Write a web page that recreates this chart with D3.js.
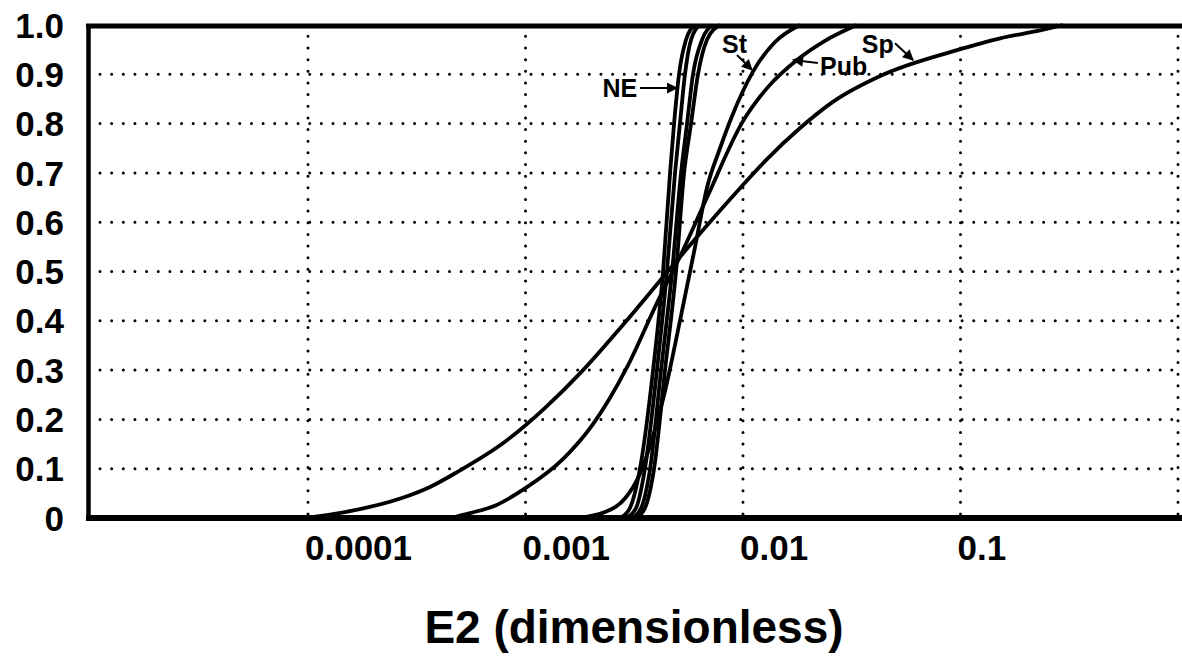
<!DOCTYPE html>
<html>
<head>
<meta charset="utf-8">
<script src="https://cdn.jsdelivr.net/npm/d3@7"></script>
<style>
  body { margin: 0; background: #fff; }
  text { font-family: "Liberation Sans", Arial, Helvetica, sans-serif; font-weight: bold; fill: #000; }
</style>
</head>
<body>
<script>
// tick values and labels
const xTicks = [0.0001, 0.001, 0.01, 0.1, 1];
const xTickLabels = ["0.0001", "0.001", "0.01", "0.1", ""];
const yTicks = [0, 0.1, 0.2, 0.3, 0.4, 0.5, 0.6, 0.7, 0.8, 0.9, 1.0];
const yTickLabels = ["0", "0.1", "0.2", "0.3", "0.4", "0.5", "0.6", "0.7", "0.8", "0.9", "1.0"];

// cumulative curves, [E2, fraction]
const neA = [[0.00272, 0], [0.00302, 0.02], [0.00336, 0.1], [0.00386, 0.3], [0.00429, 0.5], [0.00462, 0.7], [0.00482, 0.8], [0.00508, 0.9], [0.00547, 0.97], [0.00602, 1.0]];
const neB = [[0.0029, 0], [0.00322, 0.02], [0.00354, 0.1], [0.00402, 0.3], [0.00447, 0.5], [0.00487, 0.7], [0.00513, 0.8], [0.00541, 0.9], [0.00577, 0.97], [0.00634, 1.0]];
const neC = [[0.00309, 0], [0.0034, 0.02], [0.00374, 0.1], [0.0042, 0.3], [0.00472, 0.5], [0.00519, 0.7], [0.00553, 0.8], [0.00589, 0.9], [0.00648, 0.97], [0.00728, 1.0]];
const neD = [[0.00322, 0], [0.00354, 0.02], [0.0039, 0.1], [0.00438, 0.3], [0.00492, 0.5], [0.00536, 0.7], [0.00577, 0.8], [0.00621, 0.9], [0.00683, 0.97], [0.00784, 1.0]];
const st = [[0.00174, 0], [0.00232, 0.012], [0.00287, 0.04], [0.00336, 0.09], [0.00382, 0.16], [0.00434, 0.25], [0.00513, 0.4], [0.00602, 0.55], [0.00683, 0.67], [0.00784, 0.75], [0.0089, 0.815], [0.0111, 0.905], [0.014, 0.965], [0.0183, 1.0]];
const pub = [[0.00045, 0], [0.000556, 0.01], [0.000724, 0.025], [0.000995, 0.06], [0.00149, 0.12], [0.00204, 0.19], [0.00293, 0.306], [0.00402, 0.436], [0.00513, 0.53], [0.00683, 0.65], [0.01, 0.805], [0.0129, 0.872], [0.0177, 0.929], [0.0238, 0.968], [0.0334, 1.0]];
const sp = [[0.000097, 0], [0.000148, 0.012], [0.000268, 0.04], [0.000364, 0.063], [0.000489, 0.094], [0.00079, 0.152], [0.00122, 0.222], [0.00184, 0.3], [0.00281, 0.392], [0.00447, 0.498], [0.00634, 0.577], [0.00969, 0.669], [0.0129, 0.728], [0.0183, 0.791], [0.0259, 0.844], [0.044, 0.899], [0.0964, 0.949], [0.152, 0.973], [0.232, 0.989], [0.296, 1.0]];

const curves = [neA, neB, neC, neD, st, pub, sp];

// labels with arrows: text anchor point, arrow start, arrow end
const notes = [
  { text: "NE", anchor: "end", at: [0.00326, 0.854], from: [0.00336, 0.872], to: [0.00497, 0.872] },
  { text: "St", anchor: "start", at: [0.00801, 0.943], from: [0.00938, 0.939], to: [0.011, 0.909] },
  { text: "Pub", anchor: "start", at: [0.0226, 0.899], from: [0.0221, 0.923], to: [0.017, 0.929] },
  { text: "Sp", anchor: "start", at: [0.0352, 0.943], from: [0.05, 0.963], to: [0.0605, 0.929] }
];

const width = 1182,
  height = 656;

const x = d3.scaleLog().domain([0.00001, 1]).range([90.5, 1178]);
const y = d3.scaleLinear().domain([0, 1]).range([518, 25]);

const svg = d3
  .select("body")
  .append("svg")
  .attr("width", width)
  .attr("height", height);

svg.append("rect").attr("width", width).attr("height", height).attr("fill", "#fff");

svg
  .append("defs")
  .append("marker")
  .attr("id", "head")
  .attr("viewBox", "0 0 10 10")
  .attr("refX", 9)
  .attr("refY", 5)
  .attr("markerUnits", "userSpaceOnUse")
  .attr("markerWidth", 13)
  .attr("markerHeight", 11)
  .attr("orient", "auto")
  .append("path")
  .attr("d", "M0,0L10,5L0,10z")
  .attr("fill", "#000");

// dotted grid
svg
  .selectAll(".hgrid")
  .data(yTicks.filter(d => d > 0 && d < 1))
  .enter()
  .append("line")
  .attr("class", "hgrid")
  .attr("x1", 100)
  .attr("x2", x(1))
  .attr("y1", d => y(d))
  .attr("y2", d => y(d))
  .attr("stroke", "#000")
  .attr("stroke-width", 3)
  .attr("stroke-linecap", "round")
  .attr("stroke-dasharray", "0,11.65");

svg
  .selectAll(".vgrid")
  .data(xTicks)
  .enter()
  .append("line")
  .attr("class", "vgrid")
  .attr("x1", d => x(d))
  .attr("x2", d => x(d))
  .attr("y1", y(0) - 4)
  .attr("y2", 36)
  .attr("stroke", "#000")
  .attr("stroke-width", 3)
  .attr("stroke-linecap", "round")
  .attr("stroke-dasharray", "0,11.65");

// frame
svg.append("line").attr("x1", 86).attr("x2", width).attr("y1", 26).attr("y2", 26)
  .attr("stroke", "#000").attr("stroke-width", 5);
svg.append("line").attr("x1", 86).attr("x2", width).attr("y1", 518).attr("y2", 518)
  .attr("stroke", "#000").attr("stroke-width", 6);
svg.append("line").attr("x1", 88.5).attr("x2", 88.5).attr("y1", 24).attr("y2", 521)
  .attr("stroke", "#000").attr("stroke-width", 4.5);

// tick labels
svg
  .selectAll(".ylab")
  .data(yTicks)
  .enter()
  .append("text")
  .attr("class", "ylab")
  .attr("x", 64)
  .attr("y", d => y(d))
  .attr("dy", "0.36em")
  .style("font-size", "35px")
  .style("text-anchor", "end")
  .text((d, i) => yTickLabels[i]);

svg
  .selectAll(".xlab")
  .data(xTicks)
  .enter()
  .append("text")
  .attr("class", "xlab")
  .attr("x", d => x(d) - 3)
  .attr("y", 560)
  .style("font-size", "35px")
  .style("text-anchor", "start")
  .text((d, i) => xTickLabels[i]);

svg
  .append("text")
  .attr("x", 634)
  .attr("y", 643)
  .style("font-size", "46px")
  .style("text-anchor", "middle")
  .text("E2 (dimensionless)");

// curves
const line = d3
  .line()
  .x(d => x(d[0]))
  .y(d => y(d[1]))
  .curve(d3.curveMonotoneX);

svg
  .selectAll(".curve")
  .data(curves)
  .enter()
  .append("path")
  .attr("class", "curve")
  .attr("d", line)
  .attr("fill", "none")
  .attr("stroke", "#000")
  .attr("stroke-width", 3.8);

// annotations
svg
  .selectAll(".arrow")
  .data(notes)
  .enter()
  .append("line")
  .attr("class", "arrow")
  .attr("x1", d => x(d.from[0]))
  .attr("y1", d => y(d.from[1]))
  .attr("x2", d => x(d.to[0]))
  .attr("y2", d => y(d.to[1]))
  .attr("stroke", "#000")
  .attr("stroke-width", 2)
  .attr("marker-end", "url(#head)");

svg
  .selectAll(".note")
  .data(notes)
  .enter()
  .append("text")
  .attr("class", "note")
  .attr("x", d => x(d.at[0]))
  .attr("y", d => y(d.at[1]))
  .style("font-size", "25px")
  .style("text-anchor", d => d.anchor)
  .text(d => d.text);
</script>
</body>
</html>
